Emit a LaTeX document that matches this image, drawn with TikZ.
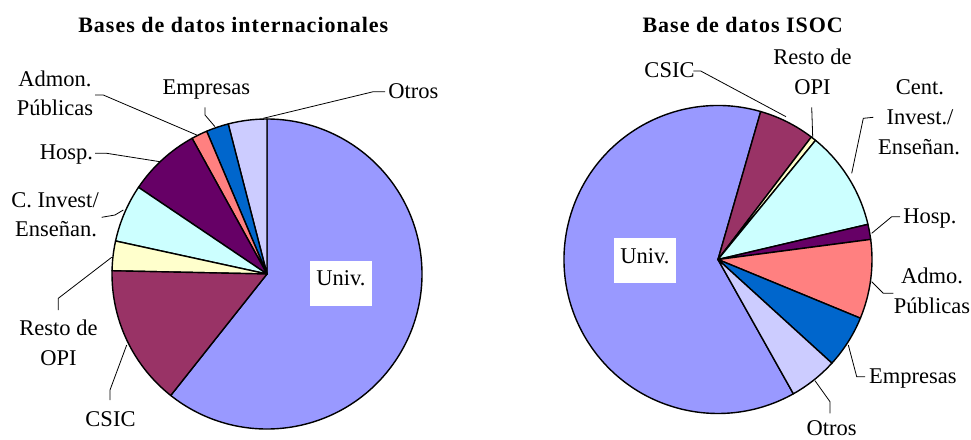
\documentclass[tikz,border=0pt]{standalone}
\usepackage{fontspec}
\setmainfont{Liberation Serif}
\definecolor{cUniv}{HTML}{9999FF}
\definecolor{cCSIC}{HTML}{993366}
\definecolor{cResto}{HTML}{FFFFCC}
\definecolor{cInv}{HTML}{CCFFFF}
\definecolor{cHosp}{HTML}{660066}
\definecolor{cAdm}{HTML}{FF8080}
\definecolor{cEmp}{HTML}{0066CC}
\definecolor{cOtr}{HTML}{CCCCFF}
\newcommand\pieslice[4]{\filldraw[fill=#4, pieline] (0,0) -- (#1:#3) arc[start angle=#1, end angle=#2, radius=#3] -- cycle;}
\tikzset{
  pieline/.style={draw=black, line width=1.4pt, line join=round},
  lbl/.style={anchor=base, inner sep=0pt, font=\fontsize{22.5}{27}\selectfont},
  ttl/.style={anchor=base, inner sep=0pt, font=\fontsize{22}{26}\selectfont\bfseries\addfontfeature{LetterSpace=4.5}},
  lead/.style={draw=black, line width=0.8pt},
  univbox/.style={anchor=base, fill=white, inner sep=0pt, minimum width=62pt, text height=25pt, text depth=20pt, font=\fontsize{22.5}{27}\selectfont}
}
\begin{document}
\begin{tikzpicture}[x=1pt, y=-1pt]
\useasboundingbox (0,0) rectangle (971,439);
% ---------------- left pie ----------------
\begin{scope}[shift={(267,274)}]
  \pieslice{231.6}{450}{155pt}{cUniv}
  \pieslice{90}{104.5}{155pt}{cOtr}
  \pieslice{104.5}{112.9}{155pt}{cEmp}
  \pieslice{112.9}{118.9}{155pt}{cAdm}
  \pieslice{118.9}{146}{155pt}{cHosp}
  \pieslice{146}{167.7}{155pt}{cInv}
  \pieslice{167.7}{178.8}{155pt}{cResto}
  \pieslice{178.8}{231.6}{155pt}{cCSIC}
\end{scope}
\node[ttl] (t1) at (233.3,32.3) {Bases de datos internacionales};
\node[univbox] (u1) at (341,285.7) {Univ.};
\node[lbl] (l1otros) at (413.3,98.3) {Otros};
\node[lbl] (l1emp) at (206.3,94) {Empresas};
\node[lbl] (l1adm) at (55,86) {Admon.};
\node[lbl] (l1adm2) at (55,115) {Públicas};
\node[lbl] (l1hosp) at (66.5,159) {Hosp.};
\node[lbl] (l1inv) at (55,207) {C. Invest/};
\node[lbl] (l1inv2) at (56,236.7) {Enseñan.};
\node[lbl] (l1resto) at (58.5,335) {Resto de};
\node[lbl] (l1resto2) at (58.5,365) {OPI};
\node[lbl] (l1csic) at (110.5,426) {CSIC};
\coordinate (a1) at (385,91.7);   \coordinate (b1) at (373.3,91.7); \coordinate (c1) at (263.3,118.3);
\coordinate (a2) at (205,107.3);  \coordinate (b2) at (205,115);    \coordinate (c2) at (215,126.7);
\coordinate (a3) at (95,95);      \coordinate (b3) at (103.3,95);   \coordinate (c3) at (196.7,135);
\coordinate (a4) at (95,153.3);   \coordinate (b4) at (106.7,153.3);\coordinate (c4) at (160,161.7);
\coordinate (a5) at (101.7,217.3);\coordinate (b5) at (115,215);    \coordinate (c5) at (123.3,210);
\coordinate (a6) at (58.3,310);   \coordinate (b6) at (58.3,298.3); \coordinate (c6) at (111.7,257.3);
\coordinate (a7) at (110,400);    \coordinate (b7) at (110,390);    \coordinate (c7) at (126.7,345);
\foreach \i in {1,...,7}{\draw[lead] (a\i) -- (b\i) -- (c\i);}
% ---------------- right pie ----------------
\begin{scope}[shift={(718,259.5)}]
  \pieslice{73.9}{299.3}{154pt}{cUniv}
  \pieslice{52.7}{73.9}{154pt}{cCSIC}
  \pieslice{50.7}{52.7}{154pt}{cResto}
  \pieslice{13.2}{50.7}{154pt}{cInv}
  \pieslice{7.5}{13.2}{154pt}{cHosp}
  \pieslice{-22.4}{7.5}{154pt}{cAdm}
  \pieslice{-42.3}{-22.4}{154pt}{cEmp}
  \pieslice{-60.7}{-42.3}{154pt}{cOtr}
\end{scope}
\node[ttl] (t2) at (742.7,32.3) {Base de datos ISOC};
\node[univbox] (u2) at (644.9,263.3) {Univ.};
\node[lbl] (r1csic) at (669.5,77.7) {CSIC};
\node[lbl] (r1resto) at (812.5,64) {Resto de};
\node[lbl] (r1resto2) at (812.5,94.3) {OPI};
\node[lbl] (r1inv) at (920,94.3) {Cent.};
\node[lbl] (r1inv2) at (920,124) {Invest./};
\node[lbl] (r1inv3) at (919,154) {Enseñan.};
\node[lbl] (r1hosp) at (930,223.3) {Hosp.};
\node[lbl] (r1adm) at (932,283.3) {Admo.};
\node[lbl] (r1adm2) at (932,313.3) {Públicas};
\node[lbl] (r1emp) at (912.8,383.3) {Empresas};
\node[lbl] (r1otros) at (831.5,435) {Otros};
\coordinate (d1) at (693.3,71);   \coordinate (e1) at (700.7,71);   \coordinate (f1) at (786,116.7);
\coordinate (d2) at (811.7,107.3);\coordinate (e2) at (812.2,122);  \coordinate (f2) at (812.7,137.3);
\coordinate (d3) at (873.3,117.3);\coordinate (e3) at (863.3,118.3);\coordinate (f3) at (851.7,173.3);
\coordinate (d4) at (900,216.7);  \coordinate (e4) at (891.7,216.7);\coordinate (f4) at (871.7,233.3);
\coordinate (d5) at (893.3,293.3);\coordinate (e5) at (883.3,293.3);\coordinate (f5) at (871.7,281.7);
\coordinate (d6) at (865,376.7);  \coordinate (e6) at (856.7,376.7);\coordinate (f6) at (848.3,345);
\coordinate (d7) at (830,413.3);  \coordinate (e7) at (830,401.7);  \coordinate (f7) at (815,380.7);
\foreach \i in {1,...,7}{\draw[lead] (d\i) -- (e\i) -- (f\i);}
\end{tikzpicture}
\end{document}
